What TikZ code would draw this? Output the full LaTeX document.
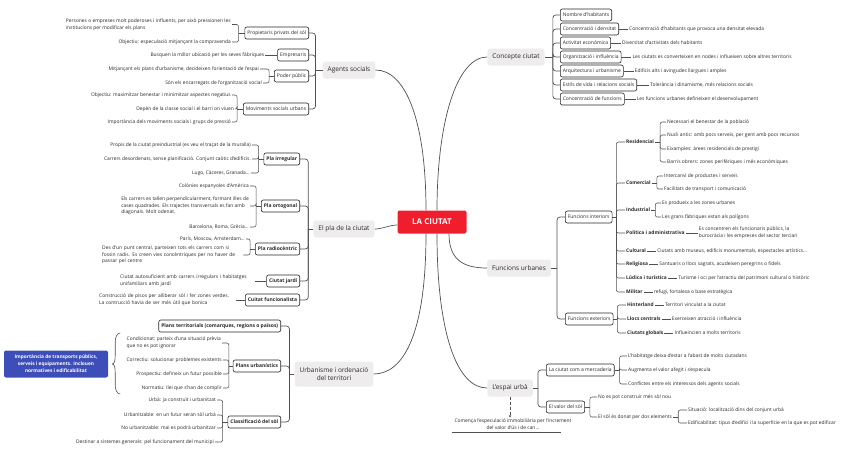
\documentclass[tikz,border=0pt]{standalone}
\usepackage{fontspec}
\setmainfont{Open Sans}
\usetikzlibrary{positioning,arrows.meta}

\definecolor{ciutatred}{RGB}{240,30,45}
\definecolor{topicgrey}{RGB}{238,236,236}
\definecolor{notablue}{RGB}{62,78,184}
\definecolor{linegrey}{RGB}{80,80,80}
\definecolor{textgrey}{RGB}{40,40,40}

\tikzset{
  centrebox/.style={fill=ciutatred, text=white, font=\fontsize{8}{9}\selectfont\bfseries, rounded corners=2pt, minimum width=69pt, minimum height=23pt},
  topicbox/.style={fill=topicgrey, text=textgrey, font=\fontsize{6.5}{8}\selectfont, rounded corners=2.5pt, minimum height=17pt, inner xsep=5pt},
  subbox/.style={draw=textgrey, line width=0.6pt, fill=white, rounded corners=2pt, font=\fontsize{5}{5.6}\selectfont, text=textgrey, inner xsep=2.5pt, inner ysep=2pt, minimum height=12pt},
  boldbox/.style={subbox, font=\fontsize{5}{5.6}\selectfont\bfseries},
  leaftext/.style={font=\fontsize{4.9}{6.6}\selectfont, text=textgrey, inner sep=1pt, align=left},
  boldtext/.style={leaftext, font=\fontsize{4.9}{6.6}\selectfont\bfseries},
  branchline/.style={draw=linegrey, line width=0.7pt},
  busline/.style={draw=linegrey, line width=0.7pt, rounded corners=3pt},
  brline/.style={draw=linegrey, line width=0.55pt, rounded corners=2pt},
  thickline/.style={draw=linegrey, line width=0.9pt},
}

\begin{document}
\begin{tikzpicture}[x=1pt,y=-1pt]
\useasboundingbox (0,0) rectangle (848,450);

% centre and main topics
\node[centrebox] (ciutat) at (432,222) {LA CIUTAT};
\node[topicbox] (agents) at (349,70) {Agents socials};
\node[topicbox] (concepte) at (516,57) {Concepte ciutat};
\node[topicbox] (pla) at (344,229) {El pla de la ciutat};
\node[topicbox] (funcions) at (519,268) {Funcions urbanes};
\node[topicbox, align=center, minimum height=25pt] (urban) at (334,374) {Urbanisme i ordenació\\del territori};
\node[topicbox] (espai) at (510,388) {L'espai urbà};

\draw[branchline] (agents.east) .. controls +(30,0) and +(0,-90) .. ([xshift=-6pt]ciutat.north);
\draw[branchline] (concepte.west) .. controls +(-30,0) and +(0,-90) .. ([xshift=5pt]ciutat.north);
\draw[branchline] (pla.east) .. controls +(8,0) and +(-8,0) .. ([yshift=-3pt]ciutat.west);
\draw[branchline] (funcions.west) .. controls +(-25,0) and +(0,25) .. ([xshift=17pt]ciutat.south);
\draw[branchline] (urban.east) .. controls +(30,0) and +(0,100) .. ([xshift=-6pt]ciutat.south);
\draw[branchline] (espai.west) .. controls +(-30,0) and +(0,100) .. ([xshift=5pt]ciutat.south);

% agents socials
\node[subbox, anchor=east] (prop) at (309,33) {Propietaris privats del sòl};
\node[subbox, anchor=east] (empr) at (309,55) {Empresaris};
\node[subbox, anchor=east] (poder) at (309,76) {Poder públic};
\node[subbox, anchor=east] (movi) at (309,109) {Moviments socials urbans};
\draw[busline] (agents.west) -- ++(-7,0) coordinate (agentsj);
\foreach \n in {prop,empr,poder,movi} \draw[busline] (\n.east) -| (agentsj);

\node[leaftext, anchor=east] (prop1) at (232,24.5) {Persones o empreses molt poderoses i influents, per això pressionen les\\institucions per modificar els plans};
\node[leaftext, anchor=east] (prop2) at (232,42) {Objectiu: especulació mitjançant la compravenda};
\draw[brline] (prop.west) -- ++(-6,0) coordinate (propj);
\foreach \n in {prop1,prop2} \draw[brline] (\n.east) -| (propj);

\node[leaftext, left=12pt of empr] (empr1) {Busquen la millor ubicació per les seves fàbriques};
\draw[brline] (empr1) -- (empr);

\node[leaftext, anchor=east] (poder1) at (260,69) {Mitjançant els plans d'urbanisme, decideixen l'orientació de l'espai};
\node[leaftext, anchor=east] (poder2) at (263,83) {Són els encarregats de l'organització social};
\draw[brline] (poder.west) -- ++(-5,0) coordinate (poderj);
\foreach \n in {poder1,poder2} \draw[brline] (\n.east) -| (poderj);

\node[leaftext, anchor=east] (movi1) at (232,95) {Objectiu: maximitzar benestar i minimitzar aspectes negatius};
\node[leaftext, anchor=east] (movi2) at (235,109) {Depèn de la classe social i el barri on viuen};
\node[leaftext, anchor=east] (movi3) at (232,122) {Importància dels moviments socials i grups de pressió};
\draw[brline] (movi.west) -- ++(-6,0) coordinate (movij);
\foreach \n in {movi1,movi2,movi3} \draw[brline] (\n.east) -| (movij);

% concepte ciutat
\node[subbox, anchor=west] (habitants) at (560,15) {Nombre d'habitants};
\node[subbox, anchor=west] (densitat) at (560,29) {Concentració i densitat};
\node[subbox, anchor=west] (activitat) at (560,43) {Activitat econòmica};
\node[subbox, anchor=west] (influencia) at (560,57) {Organització i influència};
\node[subbox, anchor=west] (arquitectura) at (560,71) {Arquitectura i urbanisme};
\node[subbox, anchor=west] (estils) at (560,85) {Estils de vida i relacions socials};
\node[subbox, anchor=west] (concentracio) at (560,99) {Concentració de funcions};
\draw[busline] (concepte.east) -- ++(8,0) coordinate (concj);
\foreach \n in {habitants,densitat,activitat,influencia,arquitectura,estils,concentracio} \draw[busline] (\n.west) -| (concj);

\node[leaftext, right=9pt of densitat] (densitat1) {Concentració d'habitants que provoca una densitat elevada};
\node[leaftext, right=10pt of activitat] (activitat1) {Diversitat d'activitats dels habitants};
\node[leaftext, right=10pt of influencia] (influencia1) {Les ciutats es converteixen en nodes i influeixen sobre altres territoris};
\node[leaftext, right=10pt of arquitectura] (arquitectura1) {Edificis alts i avingudes llargues i amples};
\node[leaftext, right=12pt of estils] (estils1) {Tolerància i dinamisme, més relacions socials};
\node[leaftext, right=11pt of concentracio] (concentracio1) {Les funcions urbanes defineixen el desenvolupament};
\foreach \n in {densitat,activitat,influencia,arquitectura,estils,concentracio} \draw[brline] (\n) -- (\n1);

% funcions urbanes
\node[subbox, anchor=west] (interiors) at (565,217) {Funcions interiors};
\node[subbox, anchor=west] (exteriors) at (565,319) {Funcions exteriors};
\draw[busline] (funcions.east) -- ++(6,0) coordinate (funcj);
\foreach \n in {interiors,exteriors} \draw[busline] (\n.west) -| (funcj);

\node[boldtext, anchor=west] (residencial) at (625,142) {Residencial};
\node[boldtext, anchor=west] (comercial) at (625,183) {Comercial};
\node[boldtext, anchor=west] (industrial) at (625,210) {Industrial};
\node[boldtext, anchor=west] (politica) at (625,233) {Política i administrativa};
\node[boldtext, anchor=west] (cultural) at (625,251) {Cultural};
\node[boldtext, anchor=west] (religiosa) at (625,264) {Religiosa};
\node[boldtext, anchor=west] (ludica) at (625,278) {Lúdica i turística};
\node[boldtext, anchor=west] (militar) at (625,292) {Militar};
\draw[brline] (interiors.east) -- ++(4,0) coordinate (intj);
\foreach \n in {residencial,comercial,industrial,politica,cultural,religiosa,ludica,militar} \draw[brline] (\n.west) -| (intj);

\node[leaftext, anchor=west] (residencial1) at (666,122) {Necessari el benestar de la població};
\node[leaftext, anchor=west] (residencial2) at (666,135) {Nucli antic: amb pocs serveis, per gent amb pocs recursos};
\node[leaftext, anchor=west] (residencial3) at (666,149) {Eixamples: àrees residencials de prestigi};
\node[leaftext, anchor=west] (residencial4) at (666,162) {Barris obrers: zones perifèriques i més econòmiques};
\draw[thickline] (residencial.east) -- ++(5,0) coordinate (residencialj);
\foreach \n in {residencial1,residencial2,residencial3,residencial4} \draw[brline] (\n.west) -| (residencialj);

\node[leaftext, anchor=west] (comercial1) at (663,176) {Intercanvi de productes i serveis};
\node[leaftext, anchor=west] (comercial2) at (663,189) {Facilitats de transport i comunicació};
\draw[thickline] (comercial.east) -- ++(5,0) coordinate (comercialj);
\foreach \n in {comercial1,comercial2} \draw[brline] (\n.west) -| (comercialj);

\node[leaftext, anchor=west] (industrial1) at (661,203) {Es produeix a les zones urbanes};
\node[leaftext, anchor=west] (industrial2) at (661,217) {Les grans fàbriques estan als polígons};
\draw[thickline] (industrial.east) -- ++(4,0) coordinate (industrialj);
\foreach \n in {industrial1,industrial2} \draw[brline] (\n.west) -| (industrialj);

\node[leaftext, right=12pt of politica] (politica1) {Es concentren els funcionaris públics, la\\burocràcia i les empreses del sector terciari};
\node[leaftext, right=9pt of cultural] (cultural1) {Ciutats amb museus, edificis monumentals, espectacles artístics...};
\node[leaftext, right=9pt of religiosa] (religiosa1) {Santuaris o llocs sagrats, acudeixen peregrins o fidels};
\node[leaftext, right=9pt of ludica] (ludica1) {Turisme i oci per l'atractiu del patrimoni cultural o històric};
\node[leaftext, right=9pt of militar] (militar1) {refugi, fortalesa o base estratègica};
\foreach \n in {politica,cultural,religiosa,ludica,militar} \draw[thickline] (\n) -- (\n1);

\node[boldtext, anchor=west] (hinterland) at (626,305) {Hinterland};
\node[boldtext, anchor=west] (centrals) at (626,319) {Llocs centrals};
\node[boldtext, anchor=west] (globals) at (626,333) {Ciutats globals};
\draw[brline] (exteriors.east) -- ++(4,0) coordinate (extj);
\foreach \n in {hinterland,centrals,globals} \draw[brline] (\n.west) -| (extj);
\node[leaftext, right=9pt of hinterland] (hinterland1) {Territori vinculat a la ciutat};
\node[leaftext, right=9pt of centrals] (centrals1) {Exerceixen atracció i influència};
\node[leaftext, right=9pt of globals] (globals1) {Influeincien a molts territoris};
\foreach \n in {hinterland,centrals,globals} \draw[thickline] (\n) -- (\n1);

% l'espai urba
\node[subbox, anchor=west] (mercaderia) at (546,370) {La ciutat com a mercaderia};
\node[subbox, anchor=west] (valor) at (546,407) {El valor del sòl};
\draw[busline] (espai.east) -- ++(5,0) coordinate (espaij);
\foreach \n in {mercaderia,valor} \draw[busline] (\n.west) -| (espaij);

\node[leaftext, anchor=west] (mercaderia1) at (627,356) {L'habitatge deixa d'estar a l'abast de molts ciutadans};
\node[leaftext, anchor=west] (mercaderia2) at (627,370) {Augmenta el valor afegit i s'especula};
\node[leaftext, anchor=west] (mercaderia3) at (627,384) {Conflictes entre els interessos dels agents socials};
\draw[brline] (mercaderia.east) -- ++(5,0) coordinate (mercaderiaj);
\foreach \n in {mercaderia1,mercaderia2,mercaderia3} \draw[brline] (\n.west) -| (mercaderiaj);

\node[leaftext, anchor=west] (valor1) at (597,397) {No es pot construir més sòl nou};
\node[leaftext, anchor=west] (valor2) at (597,417) {El sòl és donat per dos elements};
\draw[brline] (valor.east) -- ++(5,0) coordinate (valorj);
\foreach \n in {valor1,valor2} \draw[brline] (\n.west) -| (valorj);

\node[leaftext, anchor=west] (elements1) at (687,410) {Situació: localització dins del conjunt urbà};
\node[leaftext, anchor=west] (elements2) at (687,423) {Edificabilitat: tipus d'edifici i la superfície en la que es pot edificar};
\draw[brline] (valor2.east) -- ++(5,0) coordinate (elementsj);
\foreach \n in {elements1,elements2} \draw[brline] (\n.west) -| (elementsj);

\node[leaftext, align=center] (especulacio) at (513,424) {Comença l'especulació immobiliària per l'increment\\del valor d'ús i de can\dots};
\draw[linegrey, line width=0.5pt, densely dashed, -{Stealth[length=2.5pt,width=2.5pt]}] (espai.south) -- (espai.south |- especulacio.north);
\draw[linegrey, line width=0.6pt] ([xshift=-1pt,yshift=-2pt]especulacio.south west) -- ([xshift=-12pt,yshift=-2pt]especulacio.south east);

% el pla de la ciutat
\node[boldbox, anchor=east] (irregular) at (300,159) {Pla irregular};
\node[boldbox, anchor=east] (ortogonal) at (300,206) {Pla ortogonal};
\node[boldbox, anchor=east] (radiocentric) at (300,249) {Pla radiocèntric};
\node[boldbox, anchor=east] (jardi) at (300,281) {Ciutat jardí};
\node[boldbox, anchor=east] (funcionalista) at (300,300) {Cuitat funcionalista};
\draw[busline] (pla.west) -- ++(-5,0) coordinate (plaj);
\foreach \n in {irregular,ortogonal,radiocentric,jardi,funcionalista} \draw[busline] (\n.east) -| (plaj);

\node[leaftext, anchor=east] (irregular1) at (252,145) {Propis de la ciutat preindustrial (es veu el traçat de la muralla)};
\node[leaftext, anchor=east] (irregular2) at (252,159) {Carrers desordenats, sense planificació. Conjunt caòtic d'edificis.};
\node[leaftext, anchor=east] (irregular3) at (251,173) {Lugo, Càceres, Granada...};
\draw[brline] (irregular.west) -- ++(-5,0) coordinate (irregularj);
\foreach \n in {irregular1,irregular2,irregular3} \draw[brline] (\n.east) -| (irregularj);

\node[leaftext, anchor=east] (ortogonal1) at (250,186) {Colònies espanyoles d'Amèrica};
\node[leaftext, anchor=east] (ortogonal2) at (250,206) {Els carrers es tallen perpendicularment, formant illes de\\cases quadrades. Els trajectes transversals es fan amb\\diagonals. Molt odenat.};
\node[leaftext, anchor=east] (ortogonal3) at (250,227) {Barcelona, Roma, Grècia...};
\draw[brline] (ortogonal.west) -- ++(-5,0) coordinate (ortogonalj);
\foreach \n in {ortogonal1,ortogonal2,ortogonal3} \draw[brline] (\n.east) -| (ortogonalj);

\node[leaftext, anchor=east] (radiocentric1) at (246,239) {París, Moscou, Amsterdam...};
\node[leaftext, anchor=west, text width=140pt] (radiocentric2) at (101,255) {Des d'un punt central, parteixen tots els carrers com si\\fossin radis. Es creen vies concèntriques per no haver de\\passar pel centre};
\draw[brline] (radiocentric.west) -- ++(-5,0) coordinate (radiocentricj);
\foreach \n in {radiocentric1,radiocentric2} \draw[brline] (\n.east) -| (radiocentricj);

\node[leaftext, anchor=west, text width=134pt] (jardi1) at (119,281) {Ciutat autosuficient amb carrers irregulars i habitatges\\unifamiliars amb jardí};
\draw[brline] (jardi1) -- (jardi);
\node[leaftext, anchor=west, text width=136pt] (funcionalista1) at (98,300) {Construcció de pisos per alliberar sòl i fer zones verdes.\\La contrucció havia de ser més útil que bonica};
\draw[brline] (funcionalista1) -- (funcionalista);

% urbanisme i ordenacio del territori
\node[boldbox, anchor=east] (territorials) at (281,326) {Plans territorials (comarques, regions o països)};
\node[boldbox, anchor=east] (urbanistics) at (281,366) {Plans urbanístics};
\node[boldbox, anchor=east] (classificacio) at (281,422) {Classificació del sòl};
\draw[busline] (urban.west) -- ++(-5,0) coordinate (urbanj);
\foreach \n in {territorials,urbanistics,classificacio} \draw[busline] (\n.east) -| (urbanj);

\node[leaftext, anchor=east] (urbanistics1) at (222,343) {Condicionat: parteix d'una situació prèvia\\que no es pot ignorar};
\node[leaftext, anchor=east] (urbanistics2) at (223,360) {Correctiu: solucionar problemes existents};
\node[leaftext, anchor=east] (urbanistics3) at (223,374) {Prospectiu: defineix un futur possible};
\node[leaftext, anchor=east] (urbanistics4) at (223,388) {Normatiu: llei que s'han de complir};
\draw[brline] (urbanistics.west) -- ++(-4,0) coordinate (urbanisticsj);
\foreach \n in {urbanistics1,urbanistics2,urbanistics3,urbanistics4} \draw[brline] (\n.east) -| (urbanisticsj);

\node[leaftext, anchor=east] (classificacio1) at (217,400) {Urbà: ja construït i urbanitzat};
\node[leaftext, anchor=east] (classificacio2) at (217,415) {Urbanitzable: en un futur seran sòl urbà};
\node[leaftext, anchor=east] (classificacio3) at (217,428) {No urbanitzable: mai es podrà urbanitzar};
\node[leaftext, anchor=east] (classificacio4) at (215,442) {Destinar a sistemes generals: pel funcionament del municipi};
\draw[brline] (classificacio.west) -- ++(-5,0) coordinate (classificacioj);
\foreach \n in {classificacio1,classificacio2,classificacio3,classificacio4} \draw[brline] (\n.east) -| (classificacioj);

% summary note
\node[fill=notablue, text=white, font=\fontsize{4.8}{7}\selectfont\bfseries, align=center, rounded corners=2pt, minimum width=104pt, minimum height=27pt] (nota) at (56,364) {Importància de transports públics,\\serveis i equipaments. Inclouen\\normatives i edificabilitat};
\draw[linegrey, line width=0.6pt] (nota.east) ++(4,0) coordinate (notaj)
  .. controls +(2,0) and +(0,5) .. ++(3,-8) -- ++(0,-14) .. controls +(0,-5) and +(-3,0) .. ++(5,-9);
\draw[linegrey, line width=0.6pt] (notaj)
  .. controls +(2,0) and +(0,-5) .. ++(3,8) -- ++(0,13) .. controls +(0,5) and +(-3,0) .. ++(5,9);
\end{tikzpicture}
\end{document}
